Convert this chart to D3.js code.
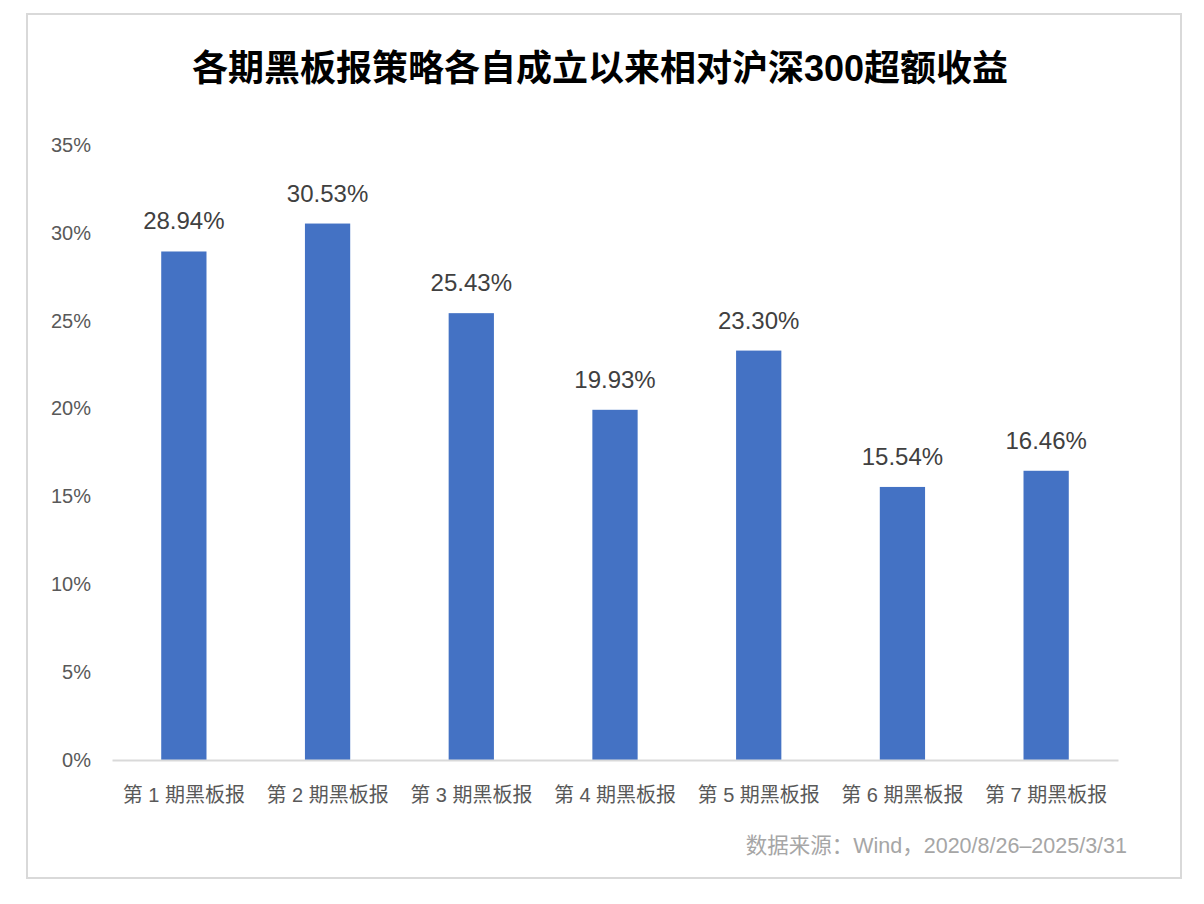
<!DOCTYPE html>
<html>
<head>
<meta charset="utf-8">
<script src="https://cdn.jsdelivr.net/npm/d3@7/dist/d3.min.js"></script>
<style>
  html, body { margin: 0; padding: 0; background: #ffffff; }
  svg { display: block; }
  text { font-family: "Liberation Sans", "Noto Sans CJK SC", sans-serif; }
</style>
</head>
<body>
<svg id="chart" width="1204" height="904"></svg>
<script>
const categories = ["第 1 期黑板报", "第 2 期黑板报", "第 3 期黑板报", "第 4 期黑板报", "第 5 期黑板报", "第 6 期黑板报", "第 7 期黑板报"];
const values = [28.94, 30.53, 25.43, 19.93, 23.30, 15.54, 16.46];
const yTicks = [0, 5, 10, 15, 20, 25, 30, 35];
const titleText = "各期黑板报策略各自成立以来相对沪深300超额收益";
const sourceText = "数据来源：Wind，2020/8/26–2025/3/31";

const svg = d3.select("#chart");

// outer frame
svg.append("rect")
  .attr("x", 27).attr("y", 14)
  .attr("width", 1154).attr("height", 864)
  .attr("fill", "#ffffff")
  .attr("stroke", "#d9d9d9")
  .attr("stroke-width", 2);

// title
svg.append("text")
  .attr("x", 600).attr("y", 68)
  .attr("text-anchor", "middle")
  .attr("dominant-baseline", "central")
  .attr("font-size", 36)
  .attr("font-weight", "bold")
  .attr("font-family", "'Noto Sans CJK SC', sans-serif")
  .attr("fill", "#000000")
  .text(titleText);

const x = d3.scaleBand()
  .domain(categories)
  .range([112, 1118])
  .paddingInner(0.685)
  .paddingOuter(0.3425);

const y = d3.scaleLinear()
  .domain([0, 35])
  .range([760, 145]);

// y axis labels
const yAxis = d3.axisLeft(y)
  .tickValues(yTicks)
  .tickFormat(d => d + "%")
  .tickSize(0)
  .tickPadding(0);

const gy = svg.append("g")
  .attr("transform", "translate(91,0)")
  .call(yAxis);
gy.select(".domain").remove();
gy.selectAll("text")
  .attr("font-size", 20)
  .attr("fill", "#595959")
  .attr("font-family", "'Liberation Sans', 'Noto Sans CJK SC', sans-serif");

// bars
svg.append("g").selectAll("rect")
  .data(values)
  .join("rect")
  .attr("x", (d, i) => x(categories[i]))
  .attr("y", d => y(d))
  .attr("width", x.bandwidth())
  .attr("height", d => y(0) - y(d))
  .attr("fill", "#4472C4");

// value labels
svg.append("g").selectAll("text")
  .data(values)
  .join("text")
  .attr("x", (d, i) => x(categories[i]) + x.bandwidth() / 2)
  .attr("y", d => y(d) - 22)
  .attr("text-anchor", "middle")
  .attr("font-size", 24)
  .attr("fill", "#404040")
  .text(d => d.toFixed(2) + "%");

// x axis
const xAxis = d3.axisBottom(x).tickSize(0).tickPadding(0);
const gx = svg.append("g")
  .attr("transform", "translate(0,760)")
  .call(xAxis);
gx.select(".domain")
  .attr("stroke", "#d9d9d9")
  .attr("stroke-width", 2);
gx.selectAll("text")
  .attr("dy", null)
  .attr("y", 35)
  .attr("dominant-baseline", "central")
  .attr("font-size", 20)
  .attr("fill", "#595959")
  .attr("font-family", "'Liberation Sans', 'Noto Sans CJK SC', sans-serif");

// source
svg.append("text")
  .attr("x", 1127).attr("y", 846)
  .attr("text-anchor", "end")
  .attr("dominant-baseline", "central")
  .attr("font-size", 21.5)
  .attr("fill", "#a6a6a6")
  .text(sourceText);
</script>
</body>
</html>
